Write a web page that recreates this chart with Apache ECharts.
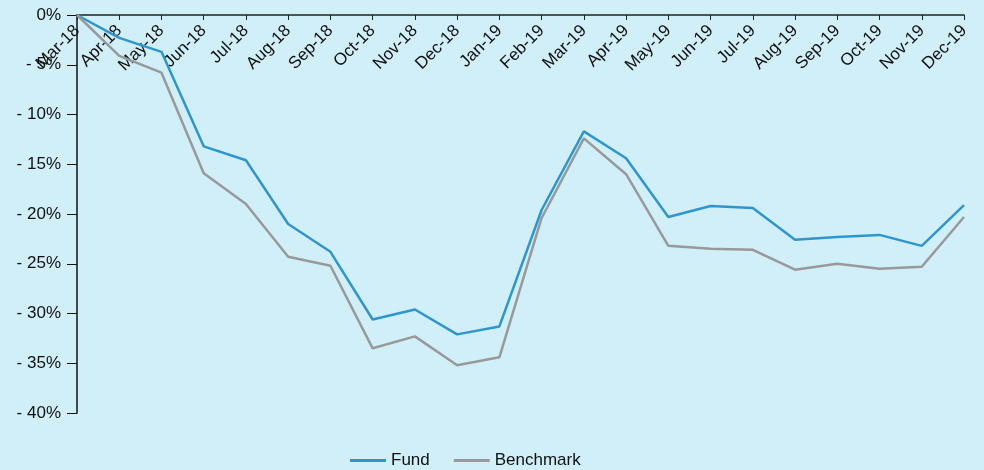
<!DOCTYPE html>
<html>
<head>
<meta charset="utf-8">
<script src="https://cdn.jsdelivr.net/npm/echarts@6/dist/echarts.min.js"></script>
<style>
  html, body { margin: 0; padding: 0; background: #d0eff9; }
  #chart { width: 984px; height: 470px; }
</style>
</head>
<body>
<div id="chart"></div>
<script>
var months = ['Mar-18', 'Apr-18', 'May-18', 'Jun-18', 'Jul-18', 'Aug-18', 'Sep-18', 'Oct-18',
  'Nov-18', 'Dec-18', 'Jan-19', 'Feb-19', 'Mar-19', 'Apr-19', 'May-19', 'Jun-19', 'Jul-19',
  'Aug-19', 'Sep-19', 'Oct-19', 'Nov-19', 'Dec-19'];

var fund = [0, -2.3, -3.7, -13.2, -14.6, -21.0, -23.8, -30.6, -29.6, -32.1, -31.3,
  -19.6, -11.7, -14.4, -20.3, -19.2, -19.4, -22.6, -22.3, -22.1, -23.2, -19.1];

var benchmark = [0, -4.1, -5.8, -15.9, -19.0, -24.3, -25.2, -33.5, -32.3, -35.2, -34.4,
  -20.4, -12.4, -16.0, -23.2, -23.5, -23.6, -25.6, -25.0, -25.5, -25.3, -20.3];

var chart = echarts.init(document.getElementById('chart'));
var font = 'Liberation Sans, Arial, sans-serif';

chart.setOption({
  backgroundColor: '#d0eff9',
  animation: false,
  grid: { left: 77, right: 20, top: 15, bottom: 57 },
  legend: {
    top: 447,
    left: 345,
    itemWidth: 36,
    itemHeight: 3,
    itemGap: 24,
    icon: 'rect',
    textStyle: { fontFamily: font, fontSize: 17, color: '#111' },
    data: ['Fund', 'Benchmark']
  },
  xAxis: {
    type: 'category',
    position: 'top',
    data: months,
    boundaryGap: false,
    axisLine: { lineStyle: { color: '#222', width: 1.5 } },
    axisTick: { inside: true, length: 5, lineStyle: { color: '#222' } },
    axisLabel: {
      inside: true,
      rotate: 45,
      interval: 0,
      margin: 13,
      fontFamily: font,
      fontSize: 17,
      color: '#111'
    },
    splitLine: { show: false }
  },
  yAxis: {
    type: 'value',
    min: -40,
    max: 0,
    interval: 5,
    axisLine: { show: true, lineStyle: { color: '#111', width: 1.5 } },
    axisTick: { show: true, length: 10, lineStyle: { color: '#111' } },
    axisLabel: {
      margin: 16,
      fontFamily: font,
      fontSize: 17,
      color: '#111',
      formatter: function (v) {
        return v < 0 ? '- ' + Math.abs(v) + '%' : v + '%';
      }
    },
    splitLine: { show: false }
  },
  series: [
    {
      name: 'Fund',
      type: 'line',
      data: fund,
      symbol: 'none',
      color: '#2e96cf',
      lineStyle: { width: 2.5, color: '#2e96cf' }
    },
    {
      name: 'Benchmark',
      type: 'line',
      data: benchmark,
      symbol: 'none',
      color: '#999999',
      lineStyle: { width: 2.5, color: '#999999' }
    }
  ]
});
</script>
</body>
</html>
